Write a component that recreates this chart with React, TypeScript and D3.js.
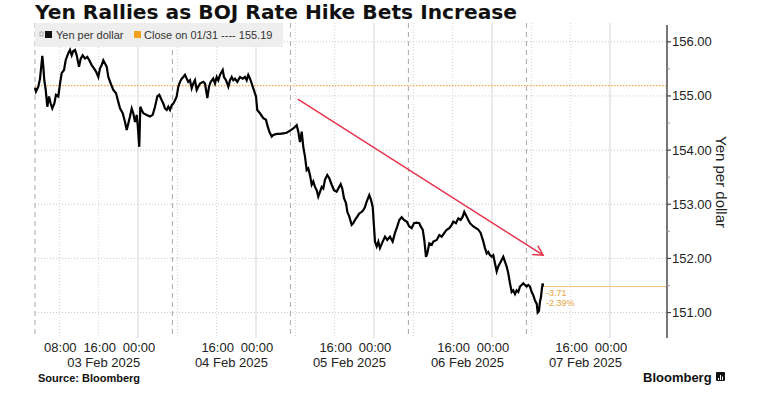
import * as d3 from "d3";

// hours after 03 Feb 2025 00:00 (chart time) and USD/JPY level
const priceHours = [
  3.05, 3.25, 3.72, 4.07, 4.54, 4.74, 4.94, 5.23, 5.55, 5.9, 6.24, 6.57, 6.98, 7.32, 7.79,
  8.14, 8.48, 8.95, 9.29, 9.82, 10.17, 10.52, 10.84, 11.19, 11.53, 12.0, 12.35, 12.75, 13.22,
  13.69, 14.09, 14.58, 15.05, 15.46, 15.93, 16.27, 16.62, 16.94, 17.29, 17.63, 17.96, 18.45,
  18.98, 19.53, 19.99, 20.34, 20.89, 21.36, 21.7, 22.03, 22.37, 22.72, 23.04, 23.39, 23.74,
  23.94, 24.26, 24.47, 24.75, 25.08, 25.77, 26.44, 26.99, 27.46, 27.93, 28.33, 28.82, 29.15,
  29.49, 29.84, 30.16, 30.51, 30.85, 31.18, 31.53, 31.87, 32.2, 32.54, 32.89, 33.21, 33.56,
  33.9, 34.23, 34.58, 34.92, 35.25, 35.59, 35.94, 36.26, 36.61, 37.28, 37.63, 38.1, 38.44,
  38.79, 39.32, 39.66, 40.01, 40.33, 40.68, 41.23, 41.49, 41.9, 42.37, 42.71, 43.06, 43.38,
  43.73, 44.2, 44.75, 45.3, 45.76, 46.11, 46.43, 46.78, 47.13, 47.45, 48.0, 48.26, 48.81,
  49.48, 50.03, 50.3, 50.71, 51.19, 51.52, 52.21, 52.88, 53.55, 54.24, 54.92, 55.59, 56.28,
  56.6, 56.95, 57.3, 57.62, 57.97, 58.31, 58.64, 58.98, 59.33, 59.65, 60.0, 60.35, 60.67,
  61.02, 61.37, 61.69, 62.03, 62.5, 62.91, 63.4, 63.86, 64.41, 64.74, 65.23, 65.55, 65.9,
  66.31, 66.57, 66.98, 67.46, 67.79, 68.14, 68.6, 69.01, 69.5, 69.82, 70.17, 70.52, 71.04,
  71.39, 71.74, 72.0, 72.2, 72.55, 72.88, 73.22, 73.77, 74.24, 74.7, 75.25, 75.8, 76.27,
  76.74, 77.15, 77.63, 78.1, 78.65, 79.18, 79.67, 80.14, 80.68, 81.21, 81.5, 81.91, 82.23,
  82.58, 82.84, 83.25, 83.74, 84.07, 84.76, 85.29, 85.78, 86.24, 86.79, 87.32, 87.81, 88.13,
  88.68, 89.15, 89.63, 90.04, 90.37, 90.86, 91.18, 91.53, 92.2, 92.75, 93.22, 93.7, 94.24,
  94.58, 94.93, 95.25, 95.59, 95.94, 96.26, 96.61, 96.96, 97.28, 97.63, 97.97, 98.3, 98.64,
  98.99, 99.32, 99.66, 100.01, 100.33, 100.68, 101.02, 101.35, 101.69, 102.04, 102.37,
  102.71, 103.06, 103.38, 103.73, 104.08, 104.4, 104.75, 105.1, 105.3, 105.56, 105.76,
  105.97, 106.17, 106.31, 106.37,
];
const priceValues = [
  155.15, 155.08, 155.17, 155.32, 155.74, 155.54, 155.29, 155.11, 154.8, 154.99, 154.86,
  154.77, 154.86, 155.02, 154.99, 155.23, 155.42, 155.48, 155.66, 155.79, 155.85, 155.75,
  155.83, 155.85, 155.75, 155.54, 155.69, 155.75, 155.69, 155.72, 155.66, 155.57, 155.51,
  155.45, 155.35, 155.51, 155.57, 155.66, 155.6, 155.54, 155.35, 155.23, 155.11, 155.05,
  154.89, 154.77, 154.68, 154.52, 154.37, 154.49, 154.62, 154.77, 154.68, 154.52, 154.65,
  154.46, 154.06, 154.8, 154.74, 154.68, 154.65, 154.62, 154.65, 154.8, 154.99, 155.02,
  154.92, 154.86, 154.77, 154.74, 154.8, 154.74, 154.83, 154.86, 154.92, 154.99, 155.17,
  155.26, 155.32, 155.35, 155.39, 155.32, 155.26, 155.29, 155.14, 155.23, 155.29, 155.11,
  155.17, 155.23, 155.26, 155.23, 154.96, 155.17, 155.26, 155.32, 155.23, 155.35, 155.29,
  155.39, 155.48, 155.35, 155.29, 155.17, 155.29, 155.35, 155.29, 155.32, 155.26, 155.35,
  155.32, 155.35, 155.29, 155.39, 155.32, 155.23, 155.14, 154.99, 154.74, 154.68, 154.59,
  154.56, 154.46, 154.34, 154.25, 154.28, 154.3, 154.3, 154.31, 154.32, 154.36, 154.4,
  154.46, 154.34, 154.15, 154.34, 154.06, 153.88, 153.63, 153.66, 153.54, 153.36, 153.42,
  153.32, 153.26, 153.14, 153.23, 153.32, 153.29, 153.45, 153.54, 153.48, 153.36, 153.26,
  153.23, 153.29, 153.37, 153.29, 153.11, 153.02, 152.86, 152.77, 152.62, 152.65, 152.71,
  152.77, 152.83, 152.86, 152.89, 152.95, 153.05, 153.17, 153.08, 152.95, 152.59, 152.31,
  152.22, 152.31, 152.19, 152.31, 152.4, 152.34, 152.4, 152.31, 152.47, 152.59, 152.71,
  152.76, 152.71, 152.68, 152.59, 152.56, 152.65, 152.66, 152.65, 152.59, 152.53, 152.34,
  152.03, 152.09, 152.28, 152.25, 152.31, 152.34, 152.43, 152.4, 152.46, 152.53, 152.56,
  152.62, 152.68, 152.65, 152.74, 152.71, 152.77, 152.86, 152.77, 152.71, 152.65, 152.59,
  152.56, 152.53, 152.47, 152.31, 152.19, 152.09, 152.12, 152.06, 152.03, 152.06, 151.91,
  151.76, 151.85, 151.91, 151.97, 152.03, 151.94, 151.85, 151.72, 151.54, 151.38, 151.41,
  151.34, 151.41, 151.38, 151.48, 151.51, 151.54, 151.51, 151.48, 151.51, 151.48, 151.38,
  151.32, 151.22, 151.16, 151.0, 151.03, 151.2, 151.29, 151.45, 151.54, 151.48,
];

const yTicks = [151, 152, 153, 154, 155, 156];
const yMinorTicks = [151.5, 152.5, 153.5, 154.5, 155.5];
const timeTickHours = [8, 16, 24, 40, 48, 64, 72, 88, 96, 112, 120];
const timeTickLabels = ["08:00", "16:00", "00:00", "16:00", "00:00", "16:00", "00:00", "16:00", "00:00", "16:00", "00:00"];
const gridHours = [8, 16, 24, 32, 40, 48, 56, 64, 72, 80, 88, 96, 104, 112, 120];
const sessionHours = [3.05, 31, 55, 79, 103, 127];
const dayLabels = ["03 Feb 2025", "04 Feb 2025", "05 Feb 2025", "06 Feb 2025", "07 Feb 2025"];
const closeValue = 155.19;
const lastValue = 151.48;
const changeLabels = ["-3.71", "-2.39%"];
const trendHours = [56.5, 106.4];
const trendValues = [154.94, 152.06];

const W = 778;
const H = 395;
const start = Date.UTC(2025, 1, 3);
const toDate = (h: number) => new Date(start + h * 3600e3);

const font = "'Liberation Sans', Arial, sans-serif";

export default function App() {
  const x = d3
    .scaleUtc()
    .domain([toDate(3.05), toDate(131.6)])
    .range([35, 667]);
  const y = d3.scaleLinear().domain([150.53, 156.31]).range([338, 25]);
  const top = 23;
  const bottom = 338;

  const pts = priceHours.map((h, i) => ({ d: toDate(h), v: priceValues[i] }));
  const line = d3
    .line<{ d: Date; v: number }>()
    .x((p) => x(p.d))
    .y((p) => y(p.v));

  const lastX = x(toDate(priceHours[priceHours.length - 1]));

  // trend arrow
  const ax1 = x(toDate(trendHours[0]));
  const ay1 = y(trendValues[0]);
  const ax2 = x(toDate(trendHours[1]));
  const ay2 = y(trendValues[1]);
  const ang = Math.atan2(ay2 - ay1, ax2 - ax1);
  const head = [ang + Math.PI - 0.5, ang + Math.PI + 0.5].map((a) => [
    ax2 + 11 * Math.cos(a),
    ay2 + 11 * Math.sin(a),
  ]);

  return (
    <svg
      width={W}
      height={H}
      style={{ position: "fixed", left: 0, top: 0, background: "#fff" }}
      fontFamily={font}
    >
      <rect width={W} height={H} fill="#fff" />
      {/* title */}
      <text
        x={35}
        y={18.5}
        fontFamily="'DejaVu Sans', sans-serif"
        fontWeight="bold"
        fontSize={19.5}
        textLength={482}
        lengthAdjust="spacingAndGlyphs"
        fill="#111"
      >
        Yen Rallies as BOJ Rate Hike Bets Increase
      </text>

      {/* horizontal grid */}
      {yTicks.map((t) => (
        <line key={t} x1={35} x2={667} y1={y(t)} y2={y(t)} stroke="#c8c8c8" strokeDasharray="1,2" />
      ))}

      {/* vertical grid */}
      {gridHours.map((h) => (
        <line
          key={h}
          x1={x(toDate(h))}
          x2={x(toDate(h))}
          y1={top}
          y2={bottom}
          stroke={h % 24 === 0 ? "#d6d6d6" : "#d2d2d2"}
          strokeDasharray={h % 24 === 0 ? undefined : "1,2"}
        />
      ))}
      {sessionHours.slice(0, 5).map((h) => (
        <line
          key={"s" + h}
          x1={x(toDate(h))}
          x2={x(toDate(h))}
          y1={top}
          y2={bottom}
          stroke="#a8a8a8"
          strokeDasharray="5,4"
        />
      ))}

      {/* legend */}
      <rect x={35} y={23} width={248} height={24} fill="#eeeeee" />
      <rect x={40} y={32} width={3} height={4} fill="none" stroke="#999" strokeWidth={0.8} />
      <rect x={45} y={31} width={7} height={7} fill="#111" />
      <text x={56} y={39} fontSize={11} fill="#333">
        Yen per dollar
      </text>
      <rect x={134} y={31} width={7} height={7} fill="#f4a020" />
      <text x={144} y={39} fontSize={11} fill="#333">
        Close on 01/31 ---- 155.19
      </text>

      {/* close line */}
      <line x1={35} x2={667} y1={y(closeValue)} y2={y(closeValue)} stroke="#f4a84a" strokeWidth={1.2} strokeDasharray="1.5,1.5" />
      {/* last line */}
      <line x1={lastX} x2={667} y1={y(lastValue)} y2={y(lastValue)} stroke="#f6c57e" strokeWidth={1} />
      {changeLabels.map((s, i) => (
        <text key={s} x={lastX + 3} y={y(lastValue) + 9 + i * 10} fontSize={9} fill="#e8a33a">
          {s}
        </text>
      ))}

      {/* price */}
      <path d={line(pts) ?? ""} fill="none" stroke="#000" strokeWidth={2.2} strokeLinejoin="miter" />

      {/* trend arrow */}
      <g stroke="#e8354d" strokeWidth={1.5} fill="none">
        <line x1={ax1} y1={ay1} x2={ax2} y2={ay2} />
        <polyline points={`${head[0][0]},${head[0][1]} ${ax2},${ay2} ${head[1][0]},${head[1][1]}`} />
      </g>

      {/* right axis */}
      <line x1={667} x2={667} y1={top + 2} y2={bottom} stroke="#777" strokeWidth={2} />
      {yMinorTicks.map((t) => (
        <line key={t} x1={667} x2={670} y1={y(t)} y2={y(t)} stroke="#999" />
      ))}
      {yTicks.map((t) => (
        <g key={t}>
          <line x1={667} x2={671} y1={y(t)} y2={y(t)} stroke="#444" strokeWidth={1.2} />
          <text x={672} y={y(t)} dy="0.35em" fontSize={13} fill="#222">
            {t.toFixed(2)}
          </text>
        </g>
      ))}
      <text
        transform={`translate(716,182) rotate(90)`}
        textAnchor="middle"
        fontSize={15}
        fill="#222"
      >
        Yen per dollar
      </text>

      {/* x labels */}
      {timeTickHours.map((h, i) => (
        <text key={h} x={x(toDate(h)) + 1} y={352} textAnchor="middle" fontSize={13} fill="#222">
          {timeTickLabels[i]}
        </text>
      ))}
      {dayLabels.map((d, i) => (
        <text
          key={d}
          x={(x(toDate(sessionHours[i])) + x(toDate(sessionHours[i + 1]))) / 2}
          y={366.5}
          textAnchor="middle"
          fontSize={13}
          fill="#222"
        >
          {d}
        </text>
      ))}

      {/* footer */}
      <text x={38} y={382} fontSize={11} fontWeight="bold" fill="#111">
        Source: Bloomberg
      </text>
      <text x={643} y={382} fontSize={13} fontWeight="bold" fill="#111">
        Bloomberg
      </text>
      <rect x={716} y={372} width={9} height={9} rx={1} fill="#111" />
      <g stroke="#fff" strokeWidth={1}>
        <line x1={718.5} x2={718.5} y1={378} y2={380} />
        <line x1={720.5} x2={720.5} y1={375} y2={380} />
        <line x1={722.5} x2={722.5} y1={376.5} y2={380} />
      </g>
    </svg>
  );
}
